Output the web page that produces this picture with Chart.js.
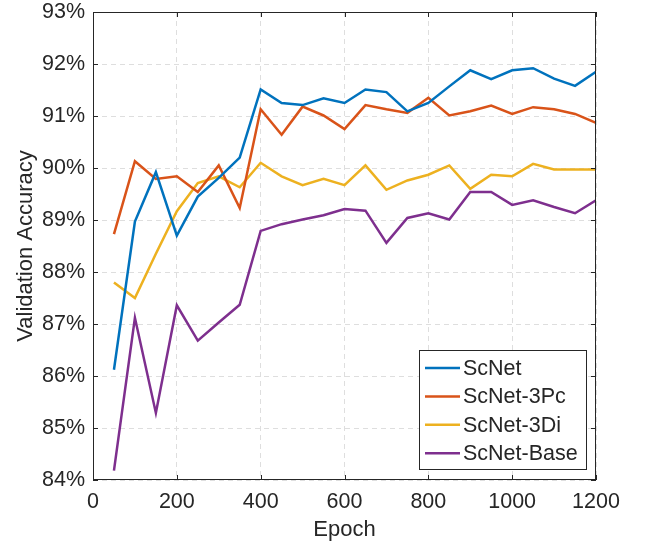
<!DOCTYPE html>
<html lang="en">

<head>
    <meta charset="UTF-8">
    <title>Validation Accuracy</title>
    <script src="https://cdn.jsdelivr.net/npm/chart.js"></script>
    <style>
        body {
            margin: 0;
            background: #ffffff;
        }

        .wrap {
            width: 649px;
            height: 544px;
        }
    </style>
</head>

<body>
    <div class="wrap">
        <canvas id="accChart" width="649" height="544"></canvas>
    </div>

    <script>
        // Data
        const epochs = [50, 100, 150, 200, 250, 300, 350, 400, 450, 500, 550, 600,
            650, 700, 750, 800, 850, 900, 950, 1000, 1050, 1100, 1150, 1200];
        const scnet = [86.12, 88.97, 89.92, 88.70, 89.45, 89.81, 90.20, 91.51, 91.25, 91.21, 91.34, 91.25,
            91.51, 91.46, 91.09, 91.25, 91.57, 91.88, 91.71, 91.88, 91.92, 91.72, 91.58, 91.85];
        const scnet3Pc = [88.73, 90.13, 89.79, 89.84, 89.54, 90.05, 89.23, 91.13, 90.64, 91.18, 91.01, 90.75,
            91.21, 91.13, 91.06, 91.35, 91.01, 91.09, 91.20, 91.04, 91.17, 91.13, 91.04, 90.87];
        const scnet3Di = [87.80, 87.50, 88.35, 89.17, 89.71, 89.84, 89.63, 90.10, 89.84, 89.67, 89.79, 89.67,
            90.05, 89.58, 89.76, 89.87, 90.05, 89.60, 89.87, 89.84, 90.08, 89.97, 89.97, 89.97];
        const scnetBase = [84.18, 87.12, 85.29, 87.36, 86.68, 87.03, 87.37, 88.79, 88.92, 89.01, 89.09, 89.21,
            89.18, 88.56, 89.04, 89.13, 89.01, 89.54, 89.54, 89.29, 89.38, 89.25, 89.13, 89.38];
        const seriesNames = ['ScNet', 'ScNet-3Pc', 'ScNet-3Di', 'ScNet-Base'];
        const seriesColors = ['#0072BD', '#D95319', '#EDB120', '#7E2F8E'];

        const FONT = '"Liberation Sans", Arial, Helvetica, sans-serif';
        const INK = '#262626';

        function toPoints(values) {
            return epochs.map((e, i) => ({ x: e, y: values[i] }));
        }

        const allSeries = [scnet, scnet3Pc, scnet3Di, scnetBase];
        const datasets = allSeries.map((vals, i) => ({
            label: seriesNames[i],
            data: toPoints(vals),
            borderColor: seriesColors[i],
            backgroundColor: seriesColors[i],
            borderWidth: 2.5,
            pointRadius: 0,
            tension: 0,
            fill: false
        }));

        // MATLAB-like box, inward ticks and legend inside the axes
        const matlabBox = {
            id: 'matlabBox',
            afterDraw(chart) {
                const { ctx, chartArea: a, scales } = chart;
                ctx.save();
                ctx.strokeStyle = INK;
                ctx.lineWidth = 1;
                ctx.setLineDash([]);
                ctx.strokeRect(a.left + 0.5, a.top + 0.5, a.right - a.left - 1, a.bottom - a.top - 1);

                // inward ticks on all four sides
                const tl = 5;
                ctx.beginPath();
                scales.x.ticks.forEach(t => {
                    const px = Math.round(scales.x.getPixelForValue(t.value)) + 0.5;
                    ctx.moveTo(px, a.bottom);
                    ctx.lineTo(px, a.bottom - tl);
                    ctx.moveTo(px, a.top);
                    ctx.lineTo(px, a.top + tl);
                });
                scales.y.ticks.forEach(t => {
                    const py = Math.round(scales.y.getPixelForValue(t.value)) + 0.5;
                    ctx.moveTo(a.left, py);
                    ctx.lineTo(a.left + tl, py);
                    ctx.moveTo(a.right, py);
                    ctx.lineTo(a.right - tl, py);
                });
                ctx.stroke();

                // legend
                const bx = 419.5, by = 350.5, bw = 167, bh = 119;
                ctx.fillStyle = '#ffffff';
                ctx.fillRect(bx, by, bw, bh);
                ctx.strokeRect(bx, by, bw, bh);
                ctx.font = '21.5px ' + FONT;
                ctx.textBaseline = 'middle';
                ctx.textAlign = 'left';
                chart.data.datasets.forEach((ds, i) => {
                    const rowY = 368 + i * 28.4;
                    ctx.strokeStyle = ds.borderColor;
                    ctx.lineWidth = 2.5;
                    ctx.beginPath();
                    ctx.moveTo(425, rowY);
                    ctx.lineTo(460, rowY);
                    ctx.stroke();
                    ctx.fillStyle = INK;
                    ctx.fillText(ds.label, 463, rowY + 1);
                });
                ctx.restore();
            }
        };

        const ctxAcc = document.getElementById('accChart').getContext('2d');
        const accChart = new Chart(ctxAcc, {
            type: 'line',
            data: { datasets: datasets },
            options: {
                responsive: false,
                animation: false,
                layout: {
                    padding: { top: 12, right: 53, left: 0, bottom: 0 }
                },
                plugins: {
                    legend: { display: false },
                    tooltip: { enabled: false }
                },
                scales: {
                    x: {
                        type: 'linear',
                        min: 0,
                        max: 1200,
                        ticks: {
                            stepSize: 200,
                            color: INK,
                            padding: 9,
                            maxRotation: 0,
                            font: { family: FONT, size: 21.5 },
                            callback: v => String(v)
                        },
                        grid: { color: '#dedede', drawTicks: false, lineWidth: 1 },
                        border: { display: false, dash: [5, 4] },
                        title: {
                            display: true,
                            text: 'Epoch',
                            color: INK,
                            padding: { top: 0, bottom: 1 },
                            font: { family: FONT, size: 22 }
                        },
                        afterFit(scale) {
                            scale.height = 64;
                            scale.paddingRight = 0;
                            scale.paddingLeft = 0;
                        }
                    },
                    y: {
                        min: 84,
                        max: 93,
                        ticks: {
                            stepSize: 1,
                            color: INK,
                            padding: 8,
                            font: { family: FONT, size: 21.5, lineHeight: 1 },
                            callback: v => v + '%'
                        },
                        grid: { color: '#dedede', drawTicks: false, lineWidth: 1 },
                        border: { display: false, dash: [5, 4] },
                        title: {
                            display: true,
                            text: 'Validation Accuracy',
                            color: INK,
                            padding: { top: 13, bottom: 0 },
                            font: { family: FONT, size: 22 }
                        },
                        afterFit(scale) {
                            scale.width = 93;
                            scale.paddingTop = 0;
                            scale.paddingBottom = 0;
                        }
                    }
                }
            },
            plugins: [matlabBox]
        });
    </script>
</body>

</html>
